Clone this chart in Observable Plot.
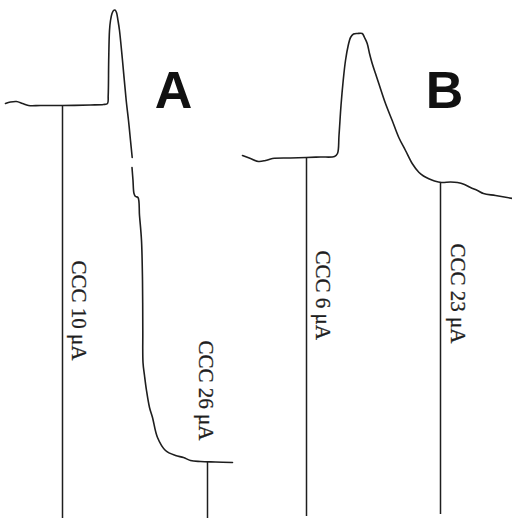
<!DOCTYPE html>
<html>
<head>
<meta charset="utf-8">
<script src="https://cdn.jsdelivr.net/npm/d3@7"></script>
<script src="https://cdn.jsdelivr.net/npm/@observablehq/plot@0.6"></script>
<style>
  html, body { margin: 0; padding: 0; background: #fff; }
  #chart svg { display: block; }
</style>
</head>
<body>
<div id="chart"></div>
<script>
// Recording A: time position (x) and pen position (y, downward)
const traceA_t = [5,10,16,22,28,40,62,90,103,107,107.7,108.2,109,110,111.5,113,114.5,116,117.5,119,122,125.7,128,130,131.7,
  null,
  131.5,132.5,133.5,135,137.5,139,141,142,142.3,142.5,144,146,149,152,157,165,175,183,190,200,215,232];
const traceA_y = [103,101.5,101,103,105,105,105,104.5,104,103,95,60,30,20,13,10,9.5,12,20,30,60,100,120,140,157,
  null,
  167,180,193,196,197,215,240,280,330,362,375,390,407,417,437,450,455,457,460,461,461.5,462];

// Recording B
const traceB_t = [242,250,258,265,272,290,306,320,334,337,338.5,340.5,342.7,345,347.7,350,353,357,361.7,364,366.7,369,371.7,375,378.3,385,391.7,398.3,405,411.7,418.3,423,428.3,434,441,450,457,464,470,477,483,495,512];
const traceB_y = [155,158,161,160,158,157.5,157,156.5,156,153,135,105,80,60,45,37,33.5,33,33,37,43,53,63,73,83,103,120,137,150,163,171.7,175.5,178.3,180.5,182,181.5,182,184,187,190,193,195,198];

// Stimulus markers (CCC applications)
const markerLabels = ["CCC 10 μA", "CCC 26 μA", "CCC 6 μA", "CCC 23 μA"];
const markerT = [62, 207, 306, 440];
const markerStart = [105, 462, 157, 182];
const markerEnd = [518, 518, 516, 514];
const labelT = [78, 205, 322, 457];
const labelTop = [260, 340, 250, 243];

// Panel letters
const panelLetters = ["A", "B"];
const panelT = [173, 444];
const panelBase = [107, 107];

const lineA = traceA_t.map((t, i) => ({t, y: traceA_y[i]}));
const lineB = traceB_t.map((t, i) => ({t, y: traceB_y[i]}));
const markers = markerLabels.map((label, i) => ({
  label, t: markerT[i], y1: markerStart[i], y2: markerEnd[i], lt: labelT[i], ly: labelTop[i]
}));
const panels = panelLetters.map((p, i) => ({p, t: panelT[i], y: panelBase[i]}));

const ink = "#1e1e1e";

const chart = Plot.plot({
  width: 512,
  height: 518,
  margin: 0,
  style: {background: "#ffffff"},
  x: {domain: [0, 512], range: [0, 512], axis: null},
  y: {domain: [0, 518], range: [0, 518], axis: null},
  marks: [
    Plot.line(lineA, {x: "t", y: "y", stroke: ink, strokeWidth: 1.6, curve: "catmull-rom"}),
    Plot.line(lineB, {x: "t", y: "y", stroke: ink, strokeWidth: 1.6, curve: "catmull-rom"}),
    Plot.ruleX(markers, {x: "t", y1: "y1", y2: "y2", stroke: ink, strokeWidth: 1.5}),
    Plot.text(markers, {
      x: "lt", y: "ly", text: "label", rotate: 90, textAnchor: "start", lineAnchor: "middle",
      fontFamily: "Liberation Serif", fontSize: 21, fill: ink, stroke: ink, strokeWidth: 0.3
    }),
    Plot.text(panels, {
      x: "t", y: "y", text: "p", lineAnchor: "bottom", textAnchor: "middle",
      fontFamily: "Liberation Sans", fontWeight: "bold", fontSize: 52, fill: "#111"
    })
  ]
});
document.getElementById("chart").appendChild(chart);
</script>
</body>
</html>
